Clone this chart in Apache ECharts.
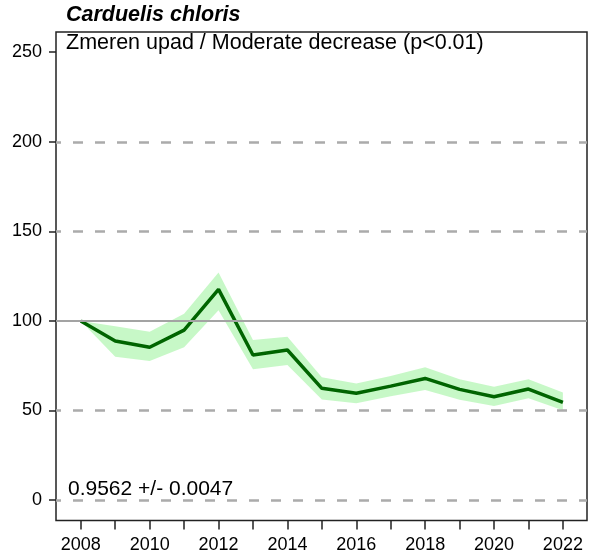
<!DOCTYPE html>
<html>
<head>
<meta charset="utf-8">
<script src="https://cdn.jsdelivr.net/npm/echarts@6/dist/echarts.min.js"></script>
<style>html,body{margin:0;padding:0;background:#fff}#c{width:591px;height:556px}</style>
</head>
<body>
<div id="c"></div>
<script>
const years = [2008,2009,2010,2011,2012,2013,2014,2015,2016,2017,2018,2019,2020,2021,2022];
const index = [100,88.8,85.3,94.9,117.6,81,83.8,62.4,59.6,63.6,67.9,61.8,57.7,62,54.5];
const upper = [100,97,94,104,127,89.3,91.2,68.5,65.1,69.2,74.1,67.5,63.3,67.4,60.1];
const lower = [100,80,77.6,85.3,106,73.1,75.4,56.2,54,58,61.4,56,52.5,56.8,50.2];
const yTicks = [0,50,100,150,200,250];
const xTicks = years;
const xLabels = [2008,2010,2012,2014,2016,2018,2020,2022];
const dashedLines = [0,50,150,200];
const solidLines = [100];
const titleText = 'Carduelis chloris';
const trendText = 'Zmeren upad / Moderate decrease (p<0.01)';
const slopeText = '0.9562 +/- 0.0047';

const chart = echarts.init(document.getElementById('c'));
const FONT = 'Liberation Sans, Arial, sans-serif';
const bandPoly = years.map((y,i)=>[y,upper[i]]).concat(years.map((y,i)=>[y,lower[i]]).reverse());

chart.setOption({
  animation:false,
  grid:{left:56,right:4,top:32,bottom:35.5,show:true,borderColor:'#222',borderWidth:1.5,backgroundColor:'#fff'},
  xAxis:{type:'value',min:2007.28,max:2022.70,
    axisLine:{show:false,onZero:false},
    axisTick:{show:true,customValues:xTicks,length:9,lineStyle:{color:'#222',width:1.5}},
    axisLabel:{customValues:xLabels,fontSize:18,color:'#000',fontFamily:FONT,margin:16,formatter:v=>String(v)},
    splitLine:{show:false}},
  yAxis:{type:'value',min:-11.4,max:261.3,
    axisLine:{show:false,onZero:false},
    axisTick:{show:true,customValues:yTicks,length:7,lineStyle:{color:'#222',width:1.5}},
    axisLabel:{customValues:yTicks,fontSize:18,color:'#000',fontFamily:FONT,margin:14},
    splitLine:{show:false}},
  series:[
    {type:'line',data:[],silent:true,z:1,
      markLine:{symbol:'none',silent:true,label:{show:false},
        data:dashedLines.map(v=>({yAxis:v,lineStyle:{color:'#ababab',width:2.6,type:[10,12],dashOffset:5}}))
          .concat(solidLines.map(v=>({yAxis:v,lineStyle:{color:'#a3a3a3',width:2,type:'solid'}})))}},
    {type:'custom',z:2,silent:true,data:[0],
      renderItem:(params,api)=>({type:'polygon',shape:{points:bandPoly.map(p=>api.coord(p))},
        style:{fill:'rgba(130,240,130,0.45)'}})},
    {type:'line',z:3,data:years.map((y,i)=>[y,index[i]]),symbol:'none',
      lineStyle:{color:'#006400',width:3.5},silent:true}
  ],
  graphic:[
    {type:'text',left:66,top:4,style:{text:titleText,font:'italic bold 21.5px '+FONT,fill:'#000'}},
    {type:'text',left:66,top:32,style:{text:trendText,font:'21.5px '+FONT,fill:'#000'}},
    {type:'text',left:68,top:479,style:{text:slopeText,font:'21px '+FONT,fill:'#000'}}
  ]
});
</script>
</body>
</html>
